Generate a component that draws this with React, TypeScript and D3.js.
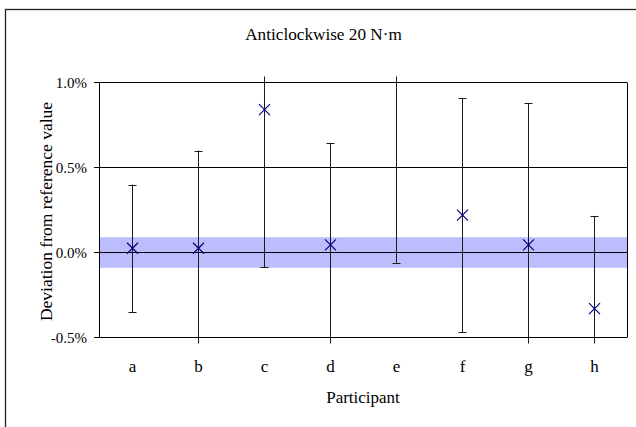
import React from "react";
import * as d3 from "d3";

// Participants and their deviation from the reference value (in %)
const participants = ["a", "b", "c", "d", "e", "f", "g", "h"];
const deviations = [0.025, 0.025, 0.84, 0.045, 1.1, 0.22, 0.045, -0.33];
const uncertainties = [0.375, 0.575, 0.925, 0.6, 1.16, 0.69, 0.835, 0.545];
// Half-width of the reference value's uncertainty band (in %)
const referenceBand = 0.09;
const yTicks = [-0.5, 0.0, 0.5, 1.0];

const W = 636;
const H = 427;
const plot = { left: 99, right: 627, top: 82.5, bottom: 337.5 };
const serif = "'Liberation Serif', 'Times New Roman', serif";

export default function App() {
  const y = d3.scaleLinear().domain([-0.5, 1.0]).range([plot.bottom, plot.top]);
  const x = d3
    .scalePoint<string>()
    .domain(participants)
    .range([plot.left, plot.right])
    .padding(0.5);

  const rows = participants.map((p, i) => ({
    p,
    cx: Math.round(x(p)!) + 0.5,
    v: deviations[i],
    u: uncertainties[i],
  }));

  const clipTop = plot.top - 6;
  const clipBottom = plot.bottom + 6;
  const inRange = (py: number) => py >= clipTop && py <= clipBottom;
  const m = 5.5;

  return (
    <svg
      width={W}
      height={H}
      style={{ position: "absolute", left: 0, top: 0, background: "#fff" }}
      fontFamily={serif}
    >
      <defs>
        <clipPath id="bars-clip">
          <rect x={0} y={clipTop} width={W} height={clipBottom - clipTop} />
        </clipPath>
      </defs>

      {/* chart frame */}
      <rect x={5.5} y={9.5} width={W + 20} height={H + 20} fill="none" stroke="#222" strokeWidth={1.3} />

      <text x={323.5} y={40} textAnchor="middle" fontSize={17.2} fill="#000">
        Anticlockwise 20 N·m
      </text>

      {/* reference uncertainty band */}
      <rect
        x={plot.left}
        y={y(referenceBand)}
        width={plot.right - plot.left + 1}
        height={y(-referenceBand) - y(referenceBand)}
        fill="#bdbdfd"
      />

      {/* horizontal gridlines */}
      {yTicks.map((t) => (
        <line key={t} x1={plot.left - 5} x2={plot.right} y1={y(t)} y2={y(t)} stroke="#000" strokeWidth={1} />
      ))}
      {/* axes border */}
      <line x1={plot.left + 0.5} x2={plot.left + 0.5} y1={plot.top} y2={plot.bottom} stroke="#000" strokeWidth={1} />
      <line x1={plot.right + 0.5} x2={plot.right + 0.5} y1={plot.top} y2={plot.bottom} stroke="#000" strokeWidth={1} />

      {yTicks.map((t) => (
        <text key={t} x={87} y={y(t) + 5} textAnchor="end" fontSize={15} fill="#000">
          {t.toFixed(1) + "%"}
        </text>
      ))}

      {/* error bars */}
      <g clipPath="url(#bars-clip)" stroke="#1a1a1a" strokeWidth={1}>
        {rows.map((r) => {
          const y1 = y(r.v + r.u);
          const y2 = y(r.v - r.u);
          return (
            <g key={r.p}>
              <line x1={r.cx} x2={r.cx} y1={y1} y2={y2} />
              {inRange(y1) && <line x1={r.cx - 4} x2={r.cx + 4} y1={Math.round(y1) + 0.5} y2={Math.round(y1) + 0.5} />}
              {inRange(y2) && <line x1={r.cx - 4} x2={r.cx + 4} y1={Math.round(y2) + 0.5} y2={Math.round(y2) + 0.5} />}
            </g>
          );
        })}
      </g>

      {/* point markers */}
      <g stroke="#000080" strokeWidth={1.2}>
        {rows
          .filter((r) => r.v <= 1.0 && r.v >= -0.5)
          .map((r) => {
            const cy = y(r.v);
            return (
              <path
                key={r.p}
                d={`M${r.cx - m},${cy - m}L${r.cx + m},${cy + m}M${r.cx - m},${cy + m}L${r.cx + m},${cy - m}`}
                fill="none"
              />
            );
          })}
      </g>

      {rows.map((r) => (
        <text key={r.p} x={r.cx} y={372} textAnchor="middle" fontSize={17} fill="#000">
          {r.p}
        </text>
      ))}

      <text x={(plot.left + plot.right) / 2} y={403} textAnchor="middle" fontSize={17} fill="#000">
        Participant
      </text>
      <text
        transform={`translate(52, ${(plot.top + plot.bottom) / 2 + 1.5}) rotate(-90)`}
        textAnchor="middle"
        fontSize={17.5}
        fill="#000"
      >
        Deviation from reference value
      </text>
    </svg>
  );
}
